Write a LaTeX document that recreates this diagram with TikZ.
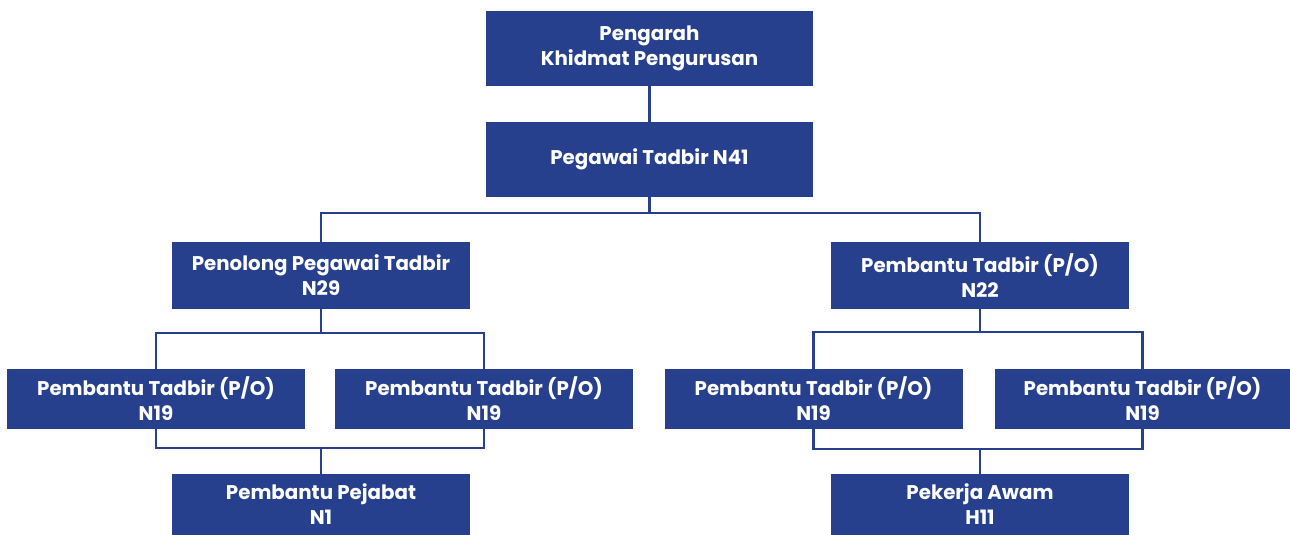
\documentclass[tikz,border=0pt]{standalone}
\usepackage{fontspec}
\setmainfont{Poppins}
\definecolor{boxblue}{RGB}{38,64,142}
\tikzset{
  orgbox/.style={fill=boxblue, draw=none, text=white, font=\fontsize{19.8}{25}\selectfont\bfseries,
    align=center, inner sep=0pt, anchor=center},
  link/.style={draw=boxblue, line width=2.7pt}
}
\begin{document}
\begin{tikzpicture}[x=1pt,y=-1pt]
\useasboundingbox (0,0) rectangle (1290,535);
\node[orgbox, minimum width=327pt, minimum height=75pt] (b1) at (649.5,48.5) {Pengarah\\Khidmat Pengurusan};
\node[orgbox, minimum width=327pt, minimum height=75pt] (b2) at (649.5,159.5) {Pegawai Tadbir N41};
\node[orgbox, minimum width=298pt, minimum height=67pt] (b3l) at (321,275.5) {Penolong Pegawai Tadbir\\N29};
\node[orgbox, minimum width=298pt, minimum height=67pt] (b3r) at (980,275.5) {Pembantu Tadbir (P/O)\\N22};
\node[orgbox, minimum width=298pt, minimum height=60pt] (b4a) at (156,399) {Pembantu Tadbir (P/O)\\N19};
\node[orgbox, minimum width=298pt, minimum height=60pt] (b4b) at (484,399) {Pembantu Tadbir (P/O)\\N19};
\node[orgbox, minimum width=298pt, minimum height=60pt] (b4c) at (813.5,399) {Pembantu Tadbir (P/O)\\N19};
\node[orgbox, minimum width=296pt, minimum height=60pt] (b4d) at (1142.5,399) {Pembantu Tadbir (P/O)\\N19};
\node[orgbox, minimum width=298pt, minimum height=61pt] (b5l) at (321,504.5) {Pembantu Pejabat\\N1};
\node[orgbox, minimum width=298pt, minimum height=61pt] (b5r) at (980,504.5) {Pekerja Awam\\H11};
\coordinate (top) at (649.5,213);
\coordinate (ltop) at (321,333);
\coordinate (rtop) at (980,332);
\coordinate (lbot) at (321,448);
\coordinate (rbot) at (980,449);
\draw[link] (b1.south) -- (b2.north);
\draw[link] (b2.south) -- (top);
\draw[link] (b3l.north) |- (top) -| (b3r.north);
\draw[link] (b3l.south) -- (ltop);
\draw[link] (b4a.north) |- (ltop) -| (b4b.north);
\draw[link] (b4a.south) |- (lbot) -| (b4b.south);
\draw[link] (lbot) -- (b5l.north);
\draw[link] (b3r.south) -- (rtop);
\draw[link] (b4c.north) |- (rtop) -| (b4d.north);
\draw[link] (b4c.south) |- (rbot) -| (b4d.south);
\draw[link] (rbot) -- (b5r.north);
\end{tikzpicture}
\end{document}
